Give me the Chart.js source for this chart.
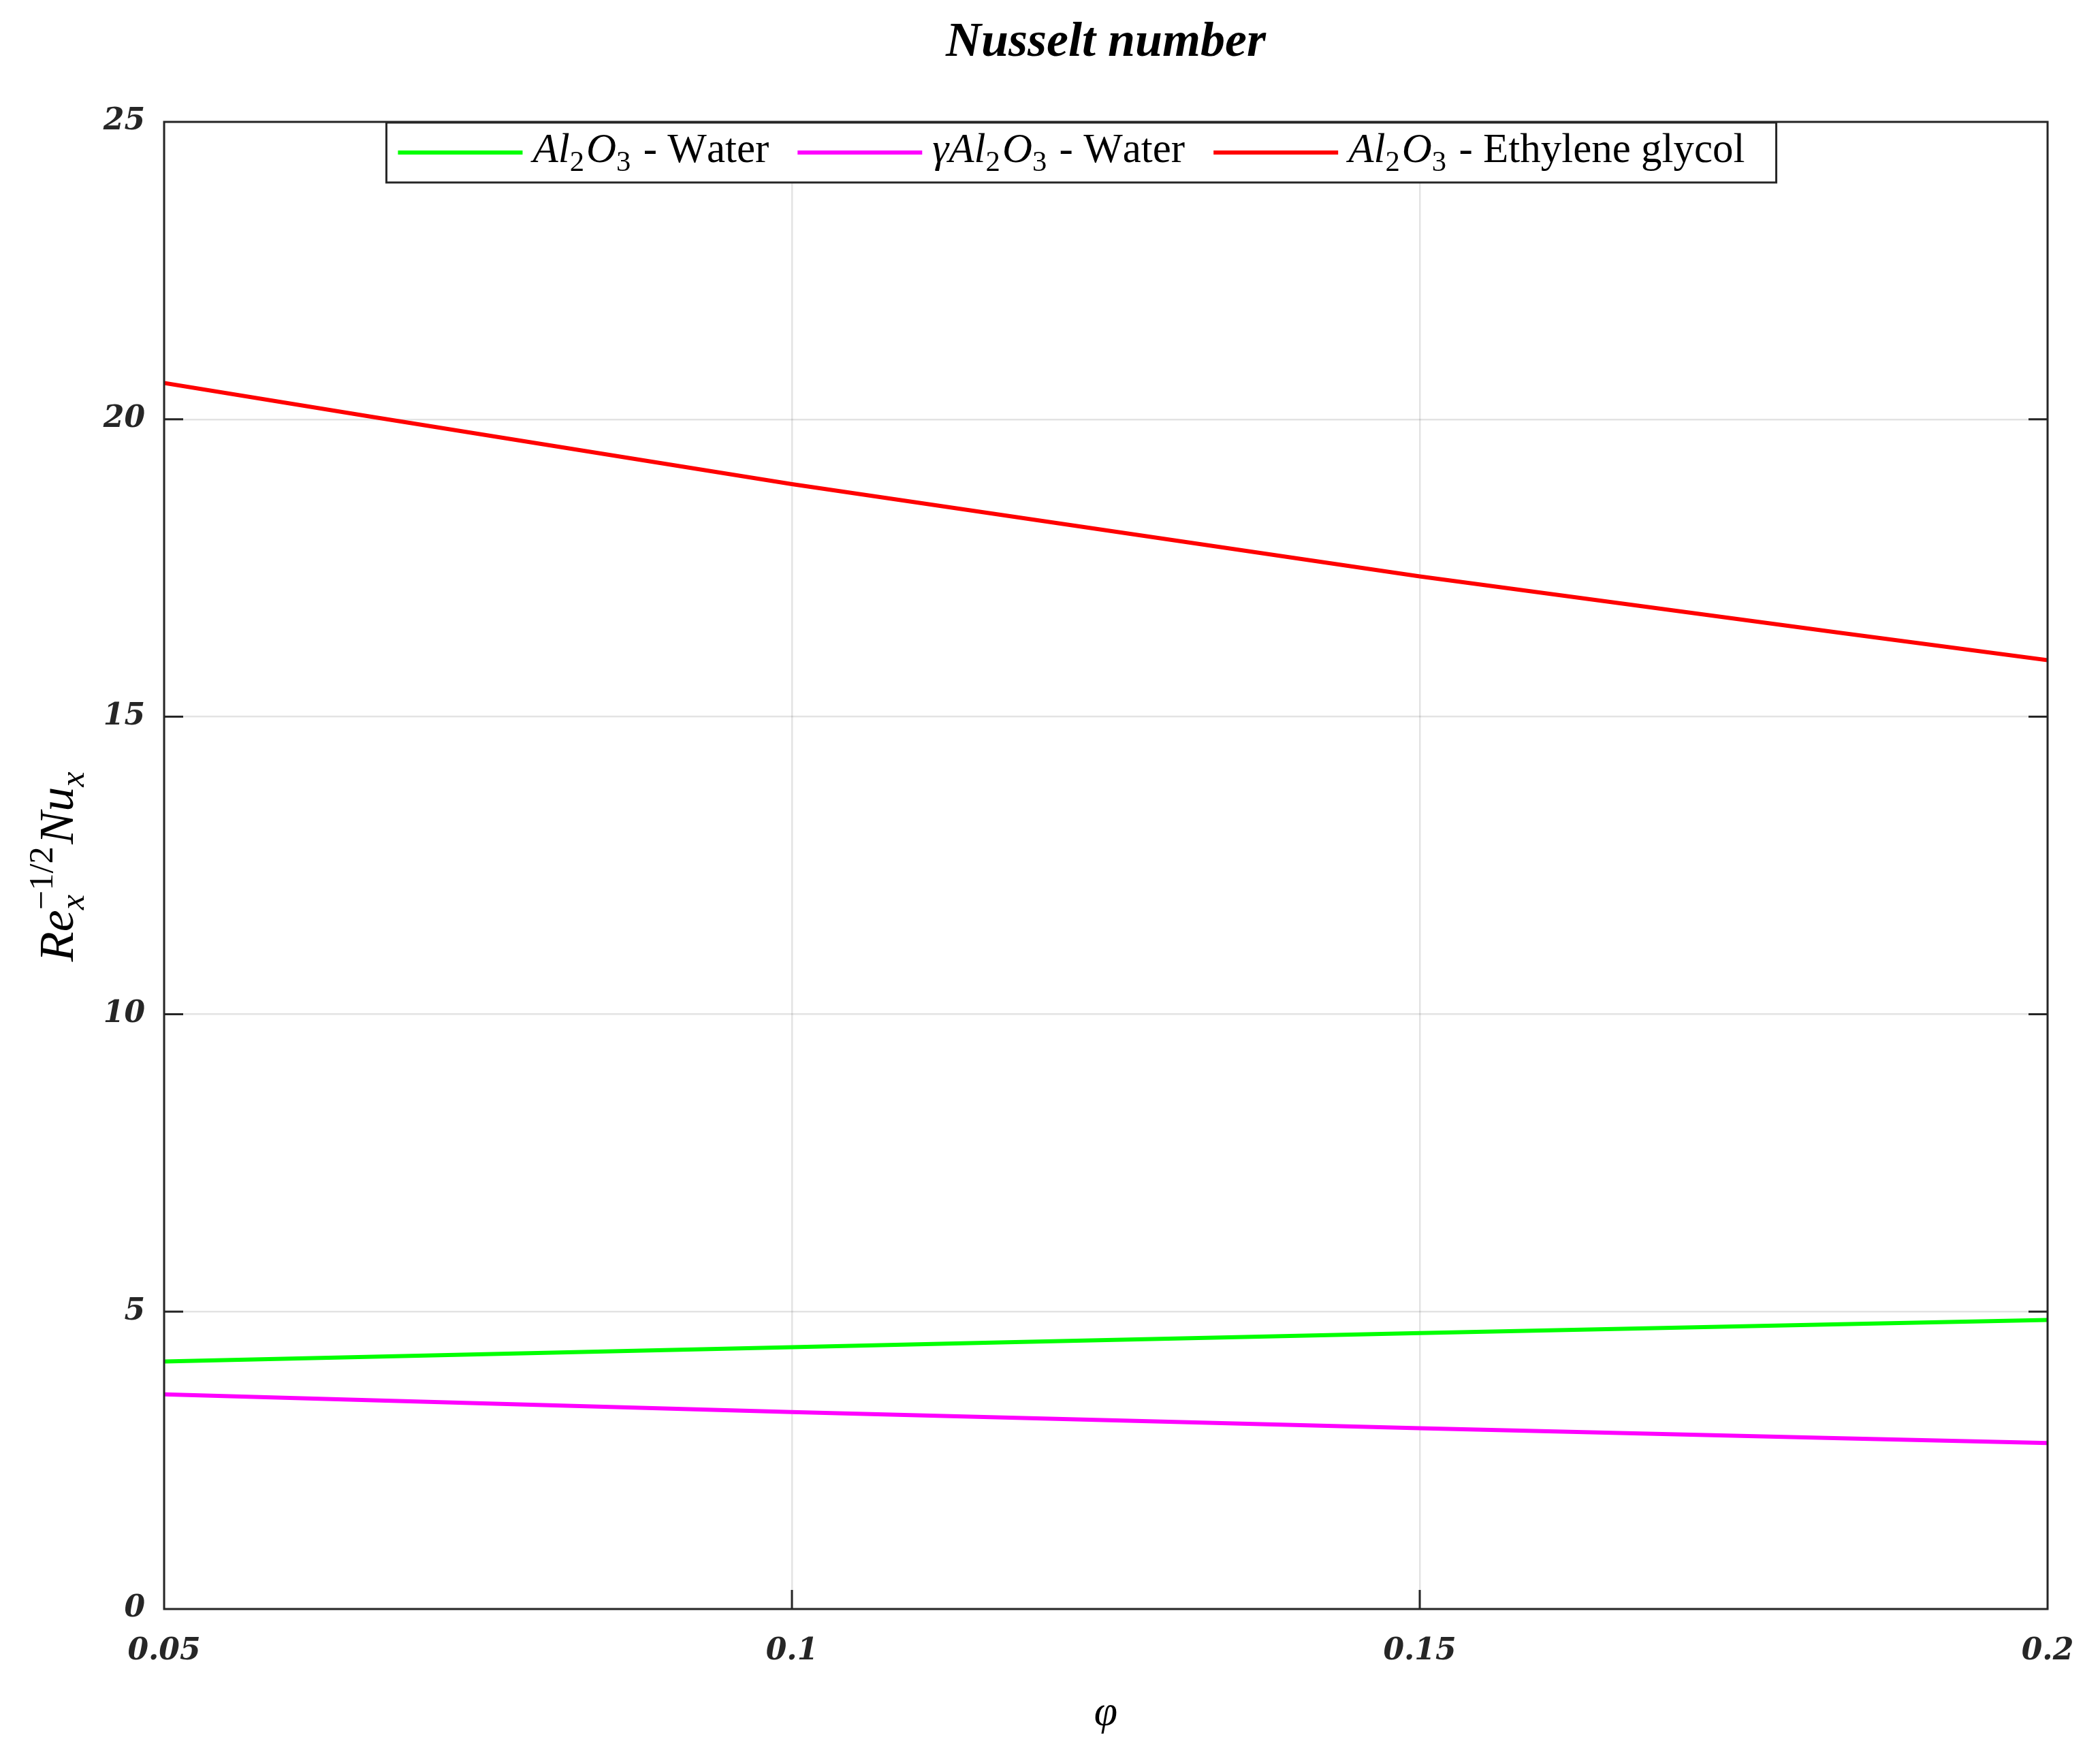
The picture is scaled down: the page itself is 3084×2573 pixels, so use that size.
<!DOCTYPE html>
<html><head><meta charset="utf-8">
<script src="https://cdn.jsdelivr.net/npm/chart.js@4.4.1/dist/chart.umd.min.js"></script>
<style>html,body{margin:0;padding:0;background:#fff;}canvas{display:block;}</style>
</head><body>
<canvas id="c" width="3084" height="2573"></canvas>
<script>
// ---------- data ----------
const chartTitle = 'Nusselt number';
const xAxisTitle = '$φ$';
const yAxisTitle = '$Re_{x}^{-1/2}Nu_{x}$';
const phiValues = [0.05, 0.1, 0.15, 0.2];
const seriesLabels = ['$Al_{2}O_{3}$ - Water', '$γAl_{2}O_{3}$ - Water', '$Al_{2}O_{3}$ - Ethylene glycol'];
const al2o3Water = [4.16, 4.40, 4.64, 4.86];
const gammaAl2o3Water = [3.61, 3.31, 3.04, 2.79];
const al2o3EthyleneGlycol = [20.61, 18.91, 17.36, 15.95];
const xTickValues = [0.05, 0.1, 0.15, 0.2];
const xTickLabels = ['0.05', '0.1', '0.15', '0.2'];
const yTickValues = [0, 5, 10, 15, 20, 25];
const yTickLabels = ['0', '5', '10', '15', '20', '25'];

// ---------- styling ----------
const seriesColors = ['#00ff00', '#ff00ff', '#ff0000'];
const axisColor = '#262626';
const SERIF = '"Liberation Serif", "Times New Roman", serif';

// ---------- rich text helpers ----------
function parseRich(str) {
  const out = []; let math = false; let i = 0;
  const readGroup = (j) => {
    if (str[j] === '{') { const k = str.indexOf('}', j); return [str.slice(j + 1, k), k + 1]; }
    return [str[j], j + 1];
  };
  while (i < str.length) {
    const c = str[i];
    if (c === '$') { math = !math; i++; continue; }
    if (c === '_' || c === '^') {
      let sub = null, sup = null;
      while (str[i] === '_' || str[i] === '^') {
        const kind = str[i]; const [g, n] = readGroup(i + 1);
        if (kind === '_') sub = g; else sup = g; i = n;
      }
      out.push({ script: true, sub, sup });
      continue;
    }
    out.push({ t: c, math }); i++;
  }
  return out;
}
function fontFor(ch, math, size) {
  const italic = math && /\p{L}/u.test(ch);
  return (italic ? 'italic ' : '') + size + 'px ' + SERIF;
}
function mapCh(ch, math) { return (math && ch === '-') ? '−' : ch; }
function runW(ctx, s, math, size) {
  let w = 0; for (const c of s) { const ch = mapCh(c, math); ctx.font = fontFor(ch, math, size); w += ctx.measureText(ch).width; } return w;
}
function runDraw(ctx, s, math, size, x, y) {
  for (const c of s) { const ch = mapCh(c, math); ctx.font = fontFor(ch, math, size); ctx.fillText(ch, x, y); x += ctx.measureText(ch).width; } return x;
}
function richWidth(ctx, tokens, size) {
  let w = 0;
  for (const tk of tokens) {
    if (tk.script) {
      const ss = size * 0.7;
      w += Math.max(tk.sub ? runW(ctx, tk.sub, true, ss) : 0, tk.sup ? runW(ctx, tk.sup, true, ss) : 0) + size * 0.05;
    } else w += runW(ctx, tk.t, tk.math, size);
  }
  return w;
}
function richDraw(ctx, tokens, size, x, y) {
  ctx.textBaseline = 'alphabetic'; ctx.textAlign = 'left';
  for (const tk of tokens) {
    if (tk.script) {
      const ss = size * 0.7;
      let w = 0;
      if (tk.sub) w = Math.max(w, runDraw(ctx, tk.sub, true, ss, x, y + size * 0.22) - x);
      if (tk.sup) w = Math.max(w, runDraw(ctx, tk.sup, true, ss, x, y - size * 0.42) - x);
      x += w + size * 0.05;
    } else x = runDraw(ctx, tk.t, tk.math, size, x, y);
  }
  return x;
}

// ---------- custom drawing plugin ----------
const decorations = {
  id: 'decorations',
  afterDatasetsDraw(chart) {
    const { ctx, chartArea: a, scales } = chart;
    ctx.save();
    ctx.strokeStyle = axisColor; ctx.lineWidth = 3;
    ctx.strokeRect(a.left, a.top, a.right - a.left, a.bottom - a.top);
    const tl = 28;
    ctx.beginPath();
    xTickValues.forEach(v => {
      const px = scales.x.getPixelForValue(v);
      if (px <= a.left + 1 || px >= a.right - 1) return;
      ctx.moveTo(px, a.bottom); ctx.lineTo(px, a.bottom - tl);
      ctx.moveTo(px, a.top); ctx.lineTo(px, a.top + tl);
    });
    yTickValues.forEach(v => {
      const py = scales.y.getPixelForValue(v);
      if (py <= a.top + 1 || py >= a.bottom - 1) return;
      ctx.moveTo(a.left, py); ctx.lineTo(a.left + tl, py);
      ctx.moveTo(a.right, py); ctx.lineTo(a.right - tl, py);
    });
    ctx.stroke();
    ctx.restore();
  },
  afterDraw(chart) {
    const { ctx, chartArea: a } = chart;
    const cx = (a.left + a.right) / 2;
    ctx.save();
    ctx.fillStyle = '#000';
    // title
    ctx.font = 'italic bold 72px ' + SERIF;
    ctx.textAlign = 'center'; ctx.textBaseline = 'alphabetic';
    ctx.fillText(chartTitle, cx, 82);
    // x axis title
    const xt = parseRich(xAxisTitle);
    const xw = richWidth(ctx, xt, 62);
    richDraw(ctx, xt, 62, cx - xw / 2, 2533);
    // y axis title
    const yt = parseRich(yAxisTitle);
    const yw = richWidth(ctx, yt, 72);
    ctx.save();
    ctx.translate(107, (a.top + a.bottom) / 2);
    ctx.rotate(-Math.PI / 2);
    richDraw(ctx, yt, 72, -yw / 2, 0);
    ctx.restore();
    // legend
    const size = 61, sample = 183, gapText = 15, gapEntry = 42, padL = 17, padR = 46;
    const toks = chart.data.datasets.map(d => parseRich(d.label));
    const widths = toks.map(t => richWidth(ctx, t, size));
    let total = padL + padR;
    widths.forEach((w, i) => { total += sample + gapText + w + (i < widths.length - 1 ? gapEntry : 0); });
    const bx = 1588 - total / 2, by = a.top + 1, bh = 88;
    ctx.fillStyle = '#fff';
    ctx.fillRect(bx, by, total, bh);
    ctx.strokeStyle = axisColor; ctx.lineWidth = 3;
    ctx.strokeRect(bx, by, total, bh);
    let x = bx + padL;
    const ly = by + bh / 2;
    chart.data.datasets.forEach((d, i) => {
      ctx.strokeStyle = d.borderColor; ctx.lineWidth = 6;
      ctx.beginPath(); ctx.moveTo(x, ly); ctx.lineTo(x + sample, ly); ctx.stroke();
      x += sample + gapText;
      ctx.fillStyle = '#000';
      richDraw(ctx, toks[i], size, x, ly + 14);
      x += widths[i] + gapEntry;
    });
    ctx.restore();
  }
};

const toPoints = arr => arr.map((y, i) => ({ x: phiValues[i], y }));
const seriesData = [al2o3Water, gammaAl2o3Water, al2o3EthyleneGlycol];

const tickFont = { family: '"DejaVu Serif", serif', style: 'italic', weight: 'bold', size: 44 };

new Chart(document.getElementById('c'), {
  type: 'line',
  data: {
    datasets: seriesData.map((arr, i) => ({
      label: seriesLabels[i],
      data: toPoints(arr),
      borderColor: seriesColors[i],
      backgroundColor: seriesColors[i],
      borderWidth: 6,
      pointRadius: 0,
      fill: false,
      cubicInterpolationMode: 'monotone'
    }))
  },
  options: {
    responsive: false,
    animation: false,
    devicePixelRatio: 1,
    layout: { padding: { top: 179, right: 77, left: 0, bottom: 0 } },
    plugins: { legend: { display: false }, title: { display: false }, tooltip: { enabled: false } },
    scales: {
      x: {
        type: 'linear', min: 0.05, max: 0.2, position: 'bottom',
        afterBuildTicks: s => { s.ticks = xTickValues.map(v => ({ value: v })); },
        afterFit: s => { s.height = 210; },
        grid: { color: 'rgba(0,0,0,0.11)', lineWidth: 2.5, drawTicks: false },
        border: { display: false },
        ticks: {
          font: tickFont, color: axisColor, padding: 36, maxRotation: 0, autoSkip: false,
          callback: (v) => { const i = xTickValues.findIndex(t => Math.abs(t - v) < 1e-9); return i >= 0 ? xTickLabels[i] : ''; }
        }
      },
      y: {
        type: 'linear', min: 0, max: 25,
        afterBuildTicks: s => { s.ticks = yTickValues.map(v => ({ value: v })); },
        afterFit: s => { s.width = 241; },
        grid: { color: 'rgba(0,0,0,0.11)', lineWidth: 2.5, drawTicks: false },
        border: { display: false },
        ticks: {
          font: tickFont, color: axisColor, padding: 28, autoSkip: false,
          callback: (v) => { const i = yTickValues.indexOf(v); return i >= 0 ? yTickLabels[i] : ''; }
        }
      }
    }
  },
  plugins: [decorations]
});
</script>
</body></html>
